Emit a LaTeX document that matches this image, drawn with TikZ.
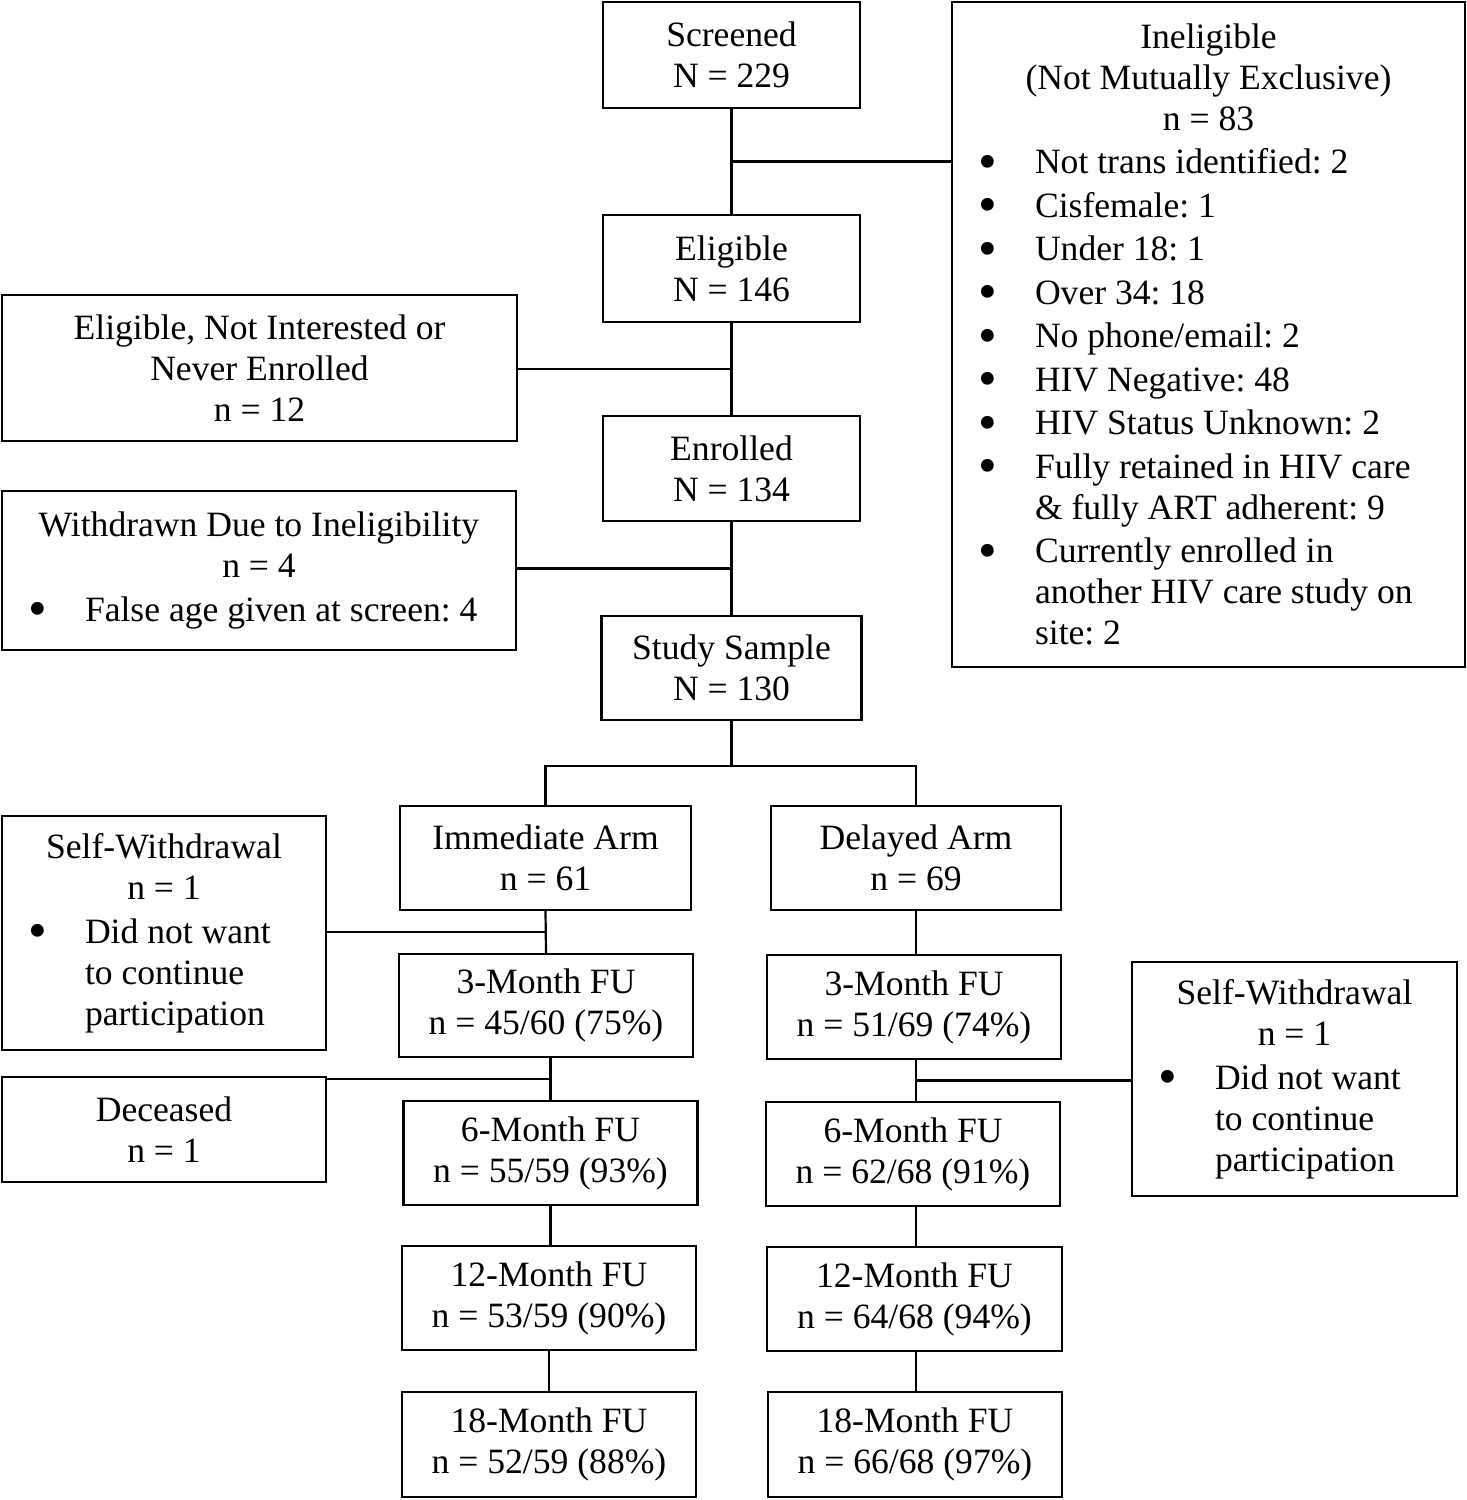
\documentclass[tikz,border=0pt]{standalone}
\usepackage{fontspec}
\usepackage{graphicx}
\setmainfont{Liberation Serif}
\usetikzlibrary{calc}
\newcommand{\bitem}[1]{\par\vspace{1.25pt}\noindent\hangindent=28.5pt\hangafter=1\makebox[28.5pt][l]{\raisebox{-0.15em}{\scalebox{1.5}{\textbullet}}}#1}

\begin{document}
\frenchspacing
\begin{tikzpicture}[
    x=0.5pt, y=-0.5pt,
    frm/.style={draw, line width=1.1pt, inner sep=0pt, font=\fontsize{17.8}{20.5}\selectfont\frenchspacing},
    box/.style={frm, align=center, minimum width=147pt, minimum height=52pt},
    lst/.style={frm, inner xsep=13pt},
    ln/.style={line width=1.1pt}
  ]
  \useasboundingbox (0,0) rectangle (1467,1500);

  % enrolment
  \node[box, minimum width=128.5pt, minimum height=53pt] (scr) at (731.5,55) {Screened\\N = 229};
  \node[box, minimum width=128.5pt, minimum height=53.5pt] (elig) at (731.5,268.5) {Eligible\\N = 146};
  \node[box, minimum width=128.5pt, minimum height=52.5pt] (enr) at (731.5,468.5) {Enrolled\\N = 134};
  \node[box, minimum width=130pt] (ss) at (731.5,668) {Study Sample\\N = 130};

  \node[lst, minimum width=256.5pt, minimum height=332.5pt] (inel) at (1208.5,334.5) {\parbox{230.5pt}{\centering Ineligible\\(Not Mutually Exclusive)\\n = 83\par\raggedright
    \bitem{Not trans identified: 2}
    \bitem{Cisfemale: 1}
    \bitem{Under 18: 1}
    \bitem{Over 34: 18}
    \bitem{No phone/email: 2}
    \bitem{HIV Negative: 48}
    \bitem{HIV Status Unknown: 2}
    \bitem{Fully retained in HIV care\newline \& fully ART adherent: 9}
    \bitem{Currently enrolled in\newline another HIV care study on\newline site: 2}}};
  \node[box, minimum width=257.5pt, minimum height=73pt] (nint) at (259.5,368) {Eligible, Not Interested or\\Never Enrolled\\n = 12};
  \node[lst, minimum width=257pt, minimum height=79.5pt] (wdr) at (259,570.5) {\parbox{231pt}{\centering Withdrawn Due to Ineligibility\\n = 4\par\raggedright
    \bitem{False age given at screen: 4}}};

  % arms
  \node[box, minimum width=145.5pt] (imm) at (545.5,858) {Immediate Arm\\n = 61};
  \node[box, minimum width=145pt] (del) at (916,858) {Delayed Arm\\n = 69};

  \node[box, minimum height=51.5pt] (m3i) at (546,1005.5) {3-Month FU\\n = 45/60 (75\%)};
  \node[box] (m6i) at (550.5,1153) {6-Month FU\\n = 55/59 (93\%)};
  \node[box] (m12i) at (549,1298) {12-Month FU\\n = 53/59 (90\%)};
  \node[box, minimum height=52.5pt] (m18i) at (549,1444.5) {18-Month FU\\n = 52/59 (88\%)};

  \node[box] (m3d) at (914,1007) {3-Month FU\\n = 51/69 (74\%)};
  \node[box] (m6d) at (913,1154) {6-Month FU\\n = 62/68 (91\%)};
  \node[box, minimum width=147.5pt] (m12d) at (914.5,1299) {12-Month FU\\n = 64/68 (94\%)};
  \node[box, minimum height=52.5pt] (m18d) at (915,1444.5) {18-Month FU\\n = 66/68 (97\%)};

  \node[lst, minimum width=162pt, minimum height=117pt] (swl) at (164,933) {\parbox{136pt}{\centering Self-Withdrawal\\n = 1\par\raggedright
    \bitem{Did not want\newline to continue\newline participation}}};
  \node[box, minimum width=162pt, minimum height=52.5pt] (dec) at (164,1129.5) {Deceased\\n = 1};
  \node[lst, minimum width=162.5pt, minimum height=117pt] (swr) at (1294.5,1079) {\parbox{136.5pt}{\centering Self-Withdrawal\\n = 1\par\raggedright
    \bitem{Did not want\newline to continue\newline participation}}};

  % connectors
  \draw[ln] (scr.south) -- (elig.north);
  \coordinate (j1) at ($(scr.south)!.5!(elig.north)$);
  \draw[ln] (j1) -- (j1 -| inel.west);
  \draw[ln] (elig.south) -- (enr.north);
  \coordinate (j2) at ($(elig.south)!.5!(enr.north)$);
  \draw[ln] (j2) -- (j2 -| nint.east);
  \draw[ln] (enr.south) -- (ss.north);
  \coordinate (j3) at ($(enr.south)!.5!(ss.north)$);
  \draw[ln] (j3) -- (j3 -| wdr.east);

  \coordinate (split) at ($(ss.south)+(0,45)$);
  \draw[ln] (ss.south) -- (split);
  \draw[ln] (imm.north) |- (split) -| (del.north);

  \draw[ln] (imm.south) -- (m3i.north);
  \coordinate (j4) at ($(imm.south)!.5!(m3i.north)$);
  \draw[ln] (j4) -- (j4 -| swl.east);
  \draw[ln] (m6i.north) -- (m6i.north |- m3i.south);
  \coordinate (j5) at ($(m6i.north)!.5!(m6i.north |- m3i.south)$);
  \draw[ln] (j5) -- (j5 -| dec.east);
  \draw[ln] (m6i.south) -- (m6i.south |- m12i.north);
  \draw[ln] (m12i.south) -- (m18i.north);

  \draw[ln] (del.south) -- (del.south |- m3d.north);
  \draw[ln] (del.south |- m3d.south) -- (del.south |- m6d.north);
  \coordinate (j6) at ($(del.south |- m3d.south)!.5!(del.south |- m6d.north)$);
  \draw[ln] (j6) -- (j6 -| swr.west);
  \draw[ln] (del.south |- m6d.south) -- (del.south |- m12d.north);
  \draw[ln] (del.south |- m12d.south) -- (del.south |- m18d.north);
\end{tikzpicture}
\end{document}
